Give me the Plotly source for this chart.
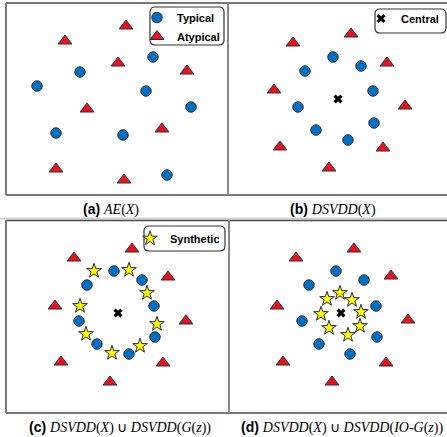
import plotly.graph_objects as go

W, H = 447, 437

# ---- data (panel-local units, 1 unit ~ 1 px, origin bottom-left of each panel) ----
a_typ_x = [147, 74, 31, 140, 185, 50, 117, 161]
a_typ_y = [138, 123, 109, 104, 88, 62, 60, 20]
a_aty_x = [120, 59, 112, 181, 81, 156, 50, 118]
a_aty_y = [169, 154, 132, 124, 86, 66, 26, 15]

b_typ_x = [105, 77, 133, 145, 70, 146, 88, 120]
b_typ_y = [138, 124, 129, 104, 88, 72, 65, 55]
b_aty_x = [123, 65, 159, 46, 177, 52, 155, 101]
b_aty_y = [161, 152, 132, 105, 89, 48, 47, 27]
b_cen_x = [110]
b_cen_y = [96]

c_typ_x = [108, 81, 136, 148, 73, 149, 91, 123]
c_typ_y = [142, 128, 133, 107, 92, 76, 69, 59]
c_syn_x = [88, 123, 141, 74, 151, 80, 134, 106]
c_syn_y = [142, 143, 120, 107, 89, 79, 67, 60]
c_aty_x = [126, 68, 162, 49, 180, 55, 157, 104]
c_aty_y = [164, 155, 136, 107, 92, 51, 50, 31]
c_cen_x = [112]
c_cen_y = [100]

d_typ_x = [108, 81, 136, 148, 74, 149, 91, 122]
d_typ_y = [142, 128, 133, 107, 92, 76, 69, 59]
d_syn_x = [112, 99, 124, 93, 133, 101, 132, 120]
d_syn_y = [120, 114, 113, 99, 101, 85, 87, 78]
d_aty_x = [126, 68, 163, 49, 180, 55, 158, 104]
d_aty_y = [164, 155, 137, 107, 93, 51, 50, 31]
d_cen_x = [113]
d_cen_y = [100]

captions = [
    "<b>(a)</b> <span style='font-family:Liberation Serif'><i>AE</i>(<i>X</i>)</span>",
    "<b>(b)</b> <span style='font-family:Liberation Serif'><i>DSVDD</i>(<i>X</i>)</span>",
    "<b>(c)</b> <span style='font-family:Liberation Serif'><i>DSVDD</i>(<i>X</i>) ∪ <i>DSVDD</i>(<i>G</i>(<i>z</i>))</span>",
    "<b>(d)</b> <span style='font-family:Liberation Serif'><i>DSVDD</i>(<i>X</i>) ∪ <i>DSVDD</i>(<i>IO-G</i>(<i>z</i>))</span>",
]

# ---- styles ----
BLUE = "#0070C0"
RED = "#E8141B"
YEL = "#FFFF00"
EDGE = "#2b2b3a"

def mk(x, y, ax, name, symbol, size, color, lw=1, legend=None):
    return go.Scatter(x=x, y=y, mode="markers", xaxis="x" + ax, yaxis="y" + ax,
                      name=name, showlegend=legend is not None,
                      legend=legend or "legend",
                      marker=dict(symbol=symbol, size=size, color=color,
                                  line=dict(color=EDGE, width=lw)))

def circ(x, y, ax, legend=None):
    return mk(x, y, ax, "Typical", "circle", 10.5, BLUE, legend=legend)

def tri(x, y, ax, legend=None):
    return mk(x, y, ax, "Atypical", "triangle-up", 12, RED, legend=legend)

def star(x, y, ax, legend=None):
    return mk(x, y, ax, "Synthetic", "star", 11, YEL, legend=legend)

def cen(x, y, ax, legend=None):
    return mk(x, y, ax, "Central", "x", 8, "black", lw=0, legend=legend)

traces = [
    circ(a_typ_x, a_typ_y, "", legend="legend"),
    tri(a_aty_x, a_aty_y, "", legend="legend"),
    circ(b_typ_x, b_typ_y, "2"), tri(b_aty_x, b_aty_y, "2"),
    cen(b_cen_x, b_cen_y, "2", legend="legend2"),
    circ(c_typ_x, c_typ_y, "3"), tri(c_aty_x, c_aty_y, "3"),
    star(c_syn_x, c_syn_y, "3", legend="legend3"), cen(c_cen_x, c_cen_y, "3"),
    circ(d_typ_x, d_typ_y, "4"), tri(d_aty_x, d_aty_y, "4"),
    star(d_syn_x, d_syn_y, "4"), cen(d_cen_x, d_cen_y, "4"),
]
traces[0].update(xaxis="x", yaxis="y")
traces[1].update(xaxis="x", yaxis="y")

fig = go.Figure(traces)

# panel boxes in pixels: left, right, top, bottom
boxes = [(6, 228, 3, 195), (228, 447, 3, 195), (6, 228, 220, 413), (228, 447, 220, 413)]

def px(x):
    return x / W

def py(y):
    return 1 - y / H

lay = {}
for i, (l, r, t, b) in enumerate(boxes):
    sx = "" if i == 0 else str(i + 1)
    axis_common = dict(showgrid=False, zeroline=False, showticklabels=False,
                       ticks="", showline=False, fixedrange=True)
    lay["xaxis" + sx] = dict(domain=[px(l), px(r)], range=[0, r - l],
                             anchor="y" + sx, **axis_common)
    lay["yaxis" + sx] = dict(domain=[py(b), py(t)], range=[0, b - t],
                             anchor="x" + sx, **axis_common)

fig.update_layout(**lay)

LINE = "#4a4a4a"
shapes = []
def hline(x0, x1, y, color=LINE, w=1.5):
    shapes.append(dict(type="line", xref="paper", yref="paper", x0=px(x0), x1=px(x1),
                       y0=py(y), y1=py(y), line=dict(color=color, width=w)))
def vline(x, y0, y1, color=LINE, w=1.5):
    shapes.append(dict(type="line", xref="paper", yref="paper", x0=px(x), x1=px(x),
                       y0=py(y0), y1=py(y1), line=dict(color=color, width=w)))

hline(6, 447, 3)
hline(6, 447, 195)
vline(6, 3, 195, color="#777", w=2)
vline(228, 3, 195, color="#888", w=2)
hline(0, 447, 218.5, color="#c8c8c8", w=1.5)
hline(6, 447, 220.5)
hline(6, 447, 413)
vline(6, 220, 413, color="#777", w=2)
vline(229, 220, 413, color="#888", w=2)

def rrect(x0, x1, y0, y1, r=5):
    X0, X1 = px(x0), px(x1)
    Y0, Y1 = py(y1), py(y0)
    rx, ry = r / W, r / H
    path = (f"M{X0+rx},{Y0} L{X1-rx},{Y0} Q{X1},{Y0} {X1},{Y0+ry} "
            f"L{X1},{Y1-ry} Q{X1},{Y1} {X1-rx},{Y1} L{X0+rx},{Y1} "
            f"Q{X0},{Y1} {X0},{Y1-ry} L{X0},{Y0+ry} Q{X0},{Y0} {X0+rx},{Y0} Z")
    shapes.append(dict(type="path", xref="paper", yref="paper", path=path,
                       line=dict(color="#333", width=1.2), fillcolor="white", layer="below"))

rrect(150, 224, 7, 45)
rrect(375, 446, 9, 33)
rrect(144, 225, 226, 251)

fig.update_layout(shapes=shapes)

leg_common = dict(bgcolor="rgba(0,0,0,0)", borderwidth=0,
                  font=dict(family="Liberation Sans", size=11, color="black", weight="bold"),
                  xanchor="left", yanchor="top", itemclick=False, itemdoubleclick=False,
                  tracegroupgap=0)
fig.update_layout(
    legend=dict(x=px(137), y=py(3), **leg_common),
    legend2=dict(x=px(361), y=py(4), **leg_common),
    legend3=dict(x=px(130), y=py(224), **leg_common),
)

caps_pos = [(111, 209), (333, 209), (120, 427), (342, 427)]
anns = []
for txt, (cx, cy) in zip(captions, caps_pos):
    anns.append(dict(text=txt, xref="paper", yref="paper", x=px(cx), y=py(cy),
                     xanchor="center", yanchor="middle", showarrow=False,
                     font=dict(family="Liberation Sans", size=14, color="black")))
fig.update_layout(annotations=anns)

fig.update_layout(width=W, height=H, margin=dict(l=0, r=0, t=0, b=0),
                  paper_bgcolor="white", plot_bgcolor="rgba(0,0,0,0)",
                  showlegend=True)

fig.write_html("out.html", config={"displayModeBar": False, "staticPlot": True},
               post_script="document.body.style.margin='0';document.body.style.overflow='hidden';")
